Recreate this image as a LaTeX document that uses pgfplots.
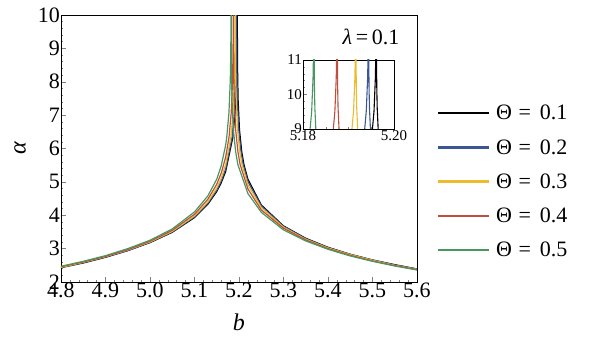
\documentclass[border=0pt]{standalone}
\usepackage{fontspec}
\setmainfont{Liberation Serif}
\usepackage{pgfplots}
\pgfplotsset{compat=1.18}
\usepackage{pgfplotstable}

\definecolor{cBlue}{HTML}{3A5794}
\definecolor{cYellow}{HTML}{EDBB2C}
\definecolor{cRed}{HTML}{BF4F3D}
\definecolor{cGreen}{HTML}{4A9660}

% Theta = 0.1
\pgfplotstableread{
b a
4.80 2.43
4.85 2.57
4.90 2.74
4.95 2.94
5.00 3.18
5.05 3.49
5.10 3.93
5.13 4.33
5.15 4.71
5.16 4.97
5.17 5.31
5.1861 6.33
5.1911 7.07
5.1941 8.04
5.1951 8.77
5.1956 9.51
5.1959 10.48
5.1960 11.21
5.19605 11.94
5.19612 11.81
5.1962 10.28
5.1963 9.62
5.1966 8.75
5.1971 8.09
5.1981 7.43
5.2011 6.56
5.2061 5.91
5.2111 5.52
5.22 5.08
5.25 4.31
5.30 3.68
5.35 3.31
5.40 3.04
5.45 2.83
5.50 2.66
5.55 2.52
5.60 2.39
}\tA

% Theta = 0.2
\pgfplotstableread{
b a
4.80 2.44
4.85 2.58
4.90 2.75
4.95 2.94
5.00 3.19
5.05 3.50
5.10 3.95
5.13 4.36
5.15 4.75
5.16 5.02
5.17 5.39
5.1844 6.33
5.1894 7.07
5.1924 8.04
5.1934 8.77
5.1939 9.51
5.1942 10.48
5.1943 11.21
5.19435 11.94
5.19442 11.81
5.1945 10.28
5.1946 9.62
5.1949 8.75
5.1954 8.09
5.1964 7.43
5.1994 6.56
5.2044 5.91
5.2094 5.52
5.22 5.01
5.25 4.28
5.30 3.67
5.35 3.30
5.40 3.03
5.45 2.83
5.50 2.66
5.55 2.51
5.60 2.39
}\tB

% Theta = 0.3
\pgfplotstableread{
b a
4.80 2.44
4.85 2.59
4.90 2.76
4.95 2.96
5.00 3.20
5.05 3.52
5.10 3.98
5.13 4.40
5.15 4.82
5.16 5.11
5.17 5.52
5.1816 6.33
5.1866 7.07
5.1896 8.04
5.1906 8.77
5.1911 9.51
5.1914 10.48
5.1915 11.21
5.19155 11.94
5.19162 11.81
5.1917 10.28
5.1918 9.62
5.1921 8.75
5.1926 8.09
5.1936 7.43
5.1966 6.56
5.2016 5.91
5.2066 5.52
5.22 4.91
5.25 4.23
5.30 3.64
5.35 3.28
5.40 3.02
5.45 2.82
5.50 2.65
5.55 2.50
5.60 2.38
}\tC

% Theta = 0.4
\pgfplotstableread{
b a
4.80 2.46
4.85 2.60
4.90 2.77
4.95 2.97
5.00 3.22
5.05 3.55
5.10 4.03
5.13 4.48
5.15 4.93
5.16 5.26
5.17 5.74
5.1775 6.33
5.1825 7.07
5.1855 8.04
5.1865 8.77
5.1870 9.51
5.1873 10.48
5.1874 11.21
5.18745 11.94
5.18752 11.81
5.1876 10.28
5.1877 9.62
5.1880 8.75
5.1885 8.09
5.1895 7.43
5.1925 6.56
5.1975 5.91
5.2025 5.52
5.22 4.79
5.25 4.16
5.30 3.61
5.35 3.26
5.40 3.00
5.45 2.80
5.50 2.63
5.55 2.49
5.60 2.37
}\tD

% Theta = 0.5
\pgfplotstableread{
b a
4.80 2.47
4.85 2.62
4.90 2.79
4.95 3.00
5.00 3.25
5.05 3.59
5.10 4.10
5.13 4.58
5.15 5.08
5.16 5.48
5.17 6.10
5.1724 6.33
5.1774 7.07
5.1804 8.04
5.1814 8.77
5.1819 9.51
5.1822 10.48
5.1823 11.21
5.18235 11.94
5.18242 11.81
5.1825 10.28
5.1826 9.62
5.1829 8.75
5.1834 8.09
5.1844 7.43
5.1874 6.56
5.1924 5.91
5.1974 5.52
5.22 4.65
5.25 4.09
5.30 3.56
5.35 3.23
5.40 2.98
5.45 2.78
5.50 2.62
5.55 2.48
5.60 2.36
}\tE

\begin{document}
\begin{tikzpicture}[x=1pt,y=1pt]
\useasboundingbox (-61,-58) rectangle (535,282);
\begin{axis}[
  scale only axis, width=356pt, height=267pt,
  xmin=4.8, xmax=5.6, ymin=2, ymax=10,
  xtick={4.8,4.9,5.0,5.1,5.2,5.3,5.4,5.5,5.6},
  ytick={2,3,4,5,6,7,8,9,10},
  minor x tick num=4, minor y tick num=4,
  tick align=inside, xtick pos=bottom, ytick pos=left,
  major tick length=5pt, minor tick length=2.5pt,
  axis line style={line width=0.7pt},
  tick style={line width=0.5pt},
  /pgf/number format/assume math mode=true,
  tick label style={font=\fontsize{22}{26}\selectfont, inner sep=1pt},
  xticklabel style={/pgf/number format/.cd, fixed, fixed zerofill, precision=1},
  xlabel={\itshape b}, ylabel={\itshape α},
  label style={font=\fontsize{24}{28}\selectfont},
  x label style={at={(axis description cs:0.5,-0.15)}, anchor=center},
  y label style={at={(axis description cs:-0.115,0.5)}, anchor=center},
  legend style={at={(1.05,0.376)}, anchor=west, draw=none, fill=none,
    font=\fontsize{22}{26}\selectfont, row sep=14pt, column sep=5pt},
  legend cell align=left,
  legend image code/.code={\fill[#1] (0pt,-0.55pt) rectangle (50pt,0.55pt);},
  every axis plot/.append style={line width=1.2pt},
]
\addplot[black] table[x=b, y=a] {\tA};
\addlegendentry{Θ\hspace{0.3em}=\hspace{0.4em}0.1}
\addplot[cBlue] table[x=b, y=a] {\tB};
\addlegendentry{Θ\hspace{0.3em}=\hspace{0.4em}0.2}
\addplot[cYellow] table[x=b, y=a] {\tC};
\addlegendentry{Θ\hspace{0.3em}=\hspace{0.4em}0.3}
\addplot[cRed] table[x=b, y=a] {\tD};
\addlegendentry{Θ\hspace{0.3em}=\hspace{0.4em}0.4}
\addplot[cGreen] table[x=b, y=a] {\tE};
\addlegendentry{Θ\hspace{0.3em}=\hspace{0.4em}0.5}
\node[font=\fontsize{22}{26}\selectfont] at (rel axis cs:0.871,0.918) {{\itshape λ}\,=\,0.1};
\end{axis}

\begin{axis}[
  at={(242pt,153pt)}, anchor=south west,
  scale only axis, width=91pt, height=69pt,
  xmin=5.18, xmax=5.20, ymin=9, ymax=11,
  xtick={5.18,5.20}, ytick={9,10,11},
  minor xtick={5.185,5.19,5.195}, minor y tick num=4,
  tick align=inside, xtick pos=bottom, ytick pos=left,
  major tick length=4pt, minor tick length=2pt,
  axis line style={line width=0.6pt},
  tick style={line width=0.4pt},
  axis background/.style={fill=white},
  /pgf/number format/assume math mode=true,
  tick label style={font=\fontsize{15}{18}\selectfont, inner sep=1pt},
  xticklabel style={/pgf/number format/.cd, fixed, fixed zerofill, precision=2},
  every axis plot/.append style={line width=1.1pt},
]
\addplot[black] table[x=b, y=a] {\tA};
\addplot[cBlue] table[x=b, y=a] {\tB};
\addplot[cYellow] table[x=b, y=a] {\tC};
\addplot[cRed] table[x=b, y=a] {\tD};
\addplot[cGreen] table[x=b, y=a] {\tE};
\end{axis}
\end{tikzpicture}
\end{document}
